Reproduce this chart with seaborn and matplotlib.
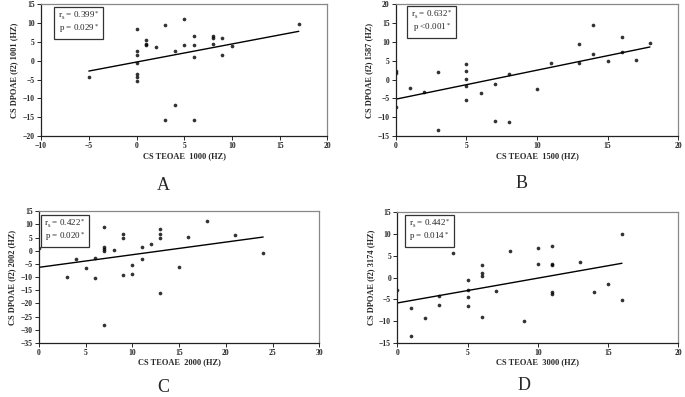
import numpy as np
import pandas as pd
import matplotlib
matplotlib.use("Agg")
import matplotlib.pyplot as plt
import seaborn as sns

# Panel A: TEOAE 1000 Hz vs DPOAE 1001 Hz
a_x = [-5, 0, 0, 0, 0, 0, 0, 0, 1, 1, 1, 2, 3, 3, 4, 4, 5, 5, 6, 6, 6, 6, 8, 8, 8, 9, 9, 10, 17]
a_y = [-4.3, 8.3, 2.6, 1.5, -0.5, -3.5, -4.4, -5.4, 5.4, 4.5, 4.2, 3.5, 9.5, -15.7, 2.5, -11.7,
       11.0, 4.1, 6.4, 4.1, 0.9, -15.8, 6.4, 6.0, 4.3, 6.1, 1.4, 4.0, 9.8]

# Panel B: TEOAE 1500 Hz vs DPOAE 1587 Hz
b_x = [0, 0, 0, 1, 2, 3, 3, 5, 5, 5, 5, 5, 6, 7, 7, 8, 8, 10, 11, 13, 13, 14, 14, 15, 16, 16, 17, 18]
b_y = [2.3, 1.8, -7.4, -2.3, -3.4, 2.0, -13.3, 4.2, 2.3, 0.1, -1.8, -5.4, -3.6, -1.3, -10.9,
       1.4, -11.3, -2.4, 4.3, 9.4, 4.3, 14.4, 6.8, 4.9, 11.3, 7.4, 5.1, 9.7]

# Panel C: TEOAE 2000 Hz vs DPOAE 2002 Hz
c_x = [0, 3, 4, 5, 6, 6, 7, 7, 7, 7, 7, 8, 9, 9, 9, 10, 10, 11, 11, 12, 13, 13, 13, 13,
       15, 16, 18, 21, 24]
c_y = [1.1, -10.0, -3.0, -6.5, -2.6, -10.5, 9.1, 1.5, 0.7, 0.0, -28.3, 0.3, 6.2, 4.7, -9.2,
       -5.4, -8.7, 1.3, -3.3, 2.6, 8.2, 6.2, 4.7, -16.1, -6.2, 5.4, 11.1, 6.0, -0.9]

# Panel D: TEOAE 3000 Hz vs DPOAE 3174 Hz
d_x = [0, 1, 1, 2, 3, 3, 4, 5, 5, 5, 5, 6, 6, 6, 6, 7, 8, 9, 10, 10, 11, 11, 11, 11, 11,
       13, 14, 15, 16, 16]
d_y = [-2.8, -6.9, -13.4, -9.2, -4.2, -6.2, 5.7, -0.6, -2.9, -4.4, -6.5, 2.9, 1.0, 0.3, -9.0,
       -3.0, 6.1, -9.9, 6.8, 3.0, 7.3, 3.0, 2.9, -3.3, -3.8, 3.5, -3.3, -1.6, 10.0, -5.2]

panels = [
    dict(x=a_x, y=a_y, xlabel="CS TEOAE  1000 (HZ)", ylabel="CS DPOAE (f2) 1001 (HZ)",
         stats=("0.399", "= 0.029"), letter="A", xlim=(-10, 20), ylim=(-20, 15)),
    dict(x=b_x, y=b_y, xlabel="CS TEOAE  1500 (HZ)", ylabel="CS DPOAE (f2) 1587 (HZ)",
         stats=("0.632", "<0.001"), letter="B", xlim=(0, 20), ylim=(-15, 20)),
    dict(x=c_x, y=c_y, xlabel="CS TEOAE  2000 (HZ)", ylabel="CS DPOAE (f2) 2002 (HZ)",
         stats=("0.422", "= 0.020"), letter="C", xlim=(0, 30), ylim=(-35, 15)),
    dict(x=d_x, y=d_y, xlabel="CS TEOAE  3000 (HZ)", ylabel="CS DPOAE (f2) 3174 (HZ)",
         stats=("0.442", "= 0.014"), letter="D", xlim=(0, 20), ylim=(-15, 15)),
]

# axes rectangles (left, bottom, width, height) in figure fractions
rects = [
    (0.060, 0.657, 0.418, 0.333),
    (0.578, 0.657, 0.412, 0.333),
    (0.057, 0.136, 0.409, 0.332),
    (0.580, 0.136, 0.410, 0.330),
]
letter_pos = [(0.238, 0.534), (0.762, 0.539), (0.238, 0.025), (0.765, 0.030)]
box_pos = [(0.131, 0.955), (0.126, 0.963), (0.093, 0.948), (0.114, 0.955)]

sns.set_style("ticks")
plt.rcParams["font.family"] = ["Liberation Serif", "DejaVu Serif"]
plt.rcParams["mathtext.fontset"] = "custom"
plt.rcParams["mathtext.rm"] = "Liberation Serif"
plt.rcParams["mathtext.it"] = "Liberation Serif:italic"

fig = plt.figure(figsize=(6.85, 3.97), dpi=100)

for p, rect, lp, bp in zip(panels, rects, letter_pos, box_pos):
    ax = fig.add_axes(rect)
    df = pd.DataFrame({"x": p["x"], "y": p["y"]})
    sns.regplot(data=df, x="x", y="y", ax=ax, ci=None, color="black",
                scatter_kws=dict(s=7, linewidths=0),
                line_kws=dict(linewidth=1.0))
    ax.set_xlim(*p["xlim"])
    ax.set_ylim(*p["ylim"])
    ax.set_xticks(np.arange(p["xlim"][0], p["xlim"][1] + 1, 5))
    ax.set_yticks(np.arange(p["ylim"][0], p["ylim"][1] + 1, 5))
    ax.tick_params(labelsize=5.5, length=3, width=0.7, direction="out", pad=1.5)
    for lab in ax.get_xticklabels() + ax.get_yticklabels():
        lab.set_fontweight("bold")
    for side in ["left", "bottom"]:
        ax.spines[side].set_color("#222222")
        ax.spines[side].set_linewidth(0.9)
    for side in ["top", "right"]:
        ax.spines[side].set_visible(True)
        ax.spines[side].set_color("#888888")
        ax.spines[side].set_linewidth(0.9)
    ax.set_xlabel(p["xlabel"], fontsize=6, fontweight="bold", labelpad=1)
    ax.set_ylabel(p["ylabel"], fontsize=6, fontweight="bold", labelpad=3)
    r, pv = p["stats"]
    txt = "r$_\\mathrm{s}$ = " + r + "$^*$\np " + pv + "$^*$"
    ax.text(bp[0], bp[1], txt, transform=ax.transAxes, fontsize=6.5, va="top", ha="center",
            multialignment="center", linespacing=1.0,
            bbox=dict(boxstyle="square,pad=0.4", facecolor="white", edgecolor="#333333",
                      linewidth=0.9))
    fig.text(lp[0], lp[1], p["letter"], fontsize=13, ha="center", va="center",
             family=["Liberation Serif"])

fig.savefig("out.png", dpi=100)
